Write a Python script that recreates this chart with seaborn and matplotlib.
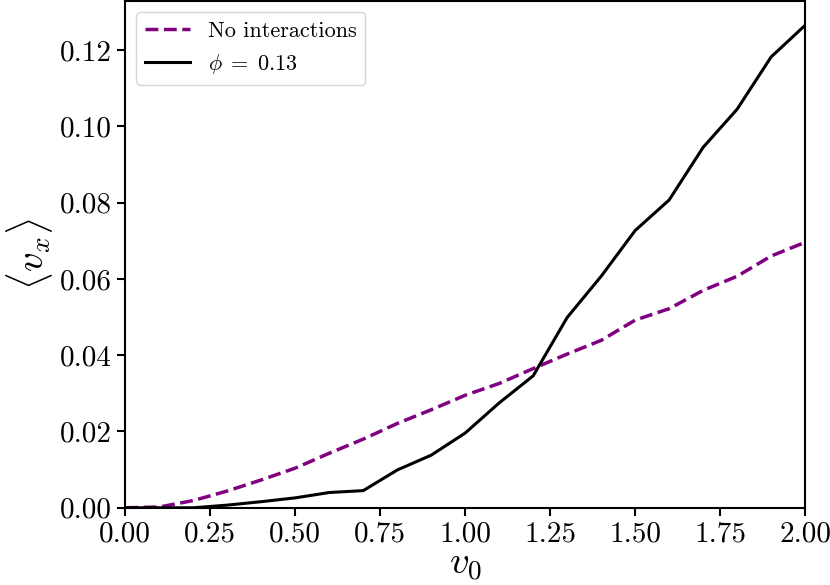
import numpy as np
import pandas as pd
import seaborn as sns
import matplotlib
matplotlib.use("Agg")
import matplotlib.pyplot as plt

# data
v0 = [0.0, 0.1, 0.2, 0.3, 0.4, 0.5, 0.6, 0.7, 0.8, 0.9, 1.0,
      1.1, 1.2, 1.3, 1.4, 1.5, 1.6, 1.7, 1.8, 1.9, 2.0]
no_inter = [0.0, 0.0002, 0.0019, 0.0044, 0.0073, 0.0104, 0.0143, 0.0180, 0.0221, 0.0257, 0.0295,
            0.0326, 0.0365, 0.0403, 0.0439, 0.0492, 0.0522, 0.0570, 0.0607, 0.0660, 0.0696]
phi_013 = [0.0, 0.0, 0.0, 0.0007, 0.0016, 0.0026, 0.0040, 0.0045, 0.0099, 0.0138, 0.0196,
           0.0275, 0.0346, 0.0499, 0.0607, 0.0727, 0.0807, 0.0945, 0.1045, 0.1182, 0.1265]
labels = ["No interactions", r"$\phi\;=\;0.13$"]

plt.rcParams["mathtext.fontset"] = "cm"
plt.rcParams["font.family"] = "serif"
plt.rcParams["font.serif"] = ["cmr10", "DejaVu Serif"]
plt.rcParams["axes.formatter.use_mathtext"] = True

df = pd.DataFrame({"v0": v0, "a": no_inter, "b": phi_013})

fig, ax = plt.subplots(figsize=(8.3, 5.85), dpi=100)
sns.lineplot(x="v0", y="a", data=df, ax=ax, color="purple", linestyle="--", linewidth=2.5, label=labels[0])
sns.lineplot(x="v0", y="b", data=df, ax=ax, color="black", linewidth=2.2, label=labels[1])

ax.set_xlim(0, 2)
ax.set_ylim(0, max(phi_013) * 1.05)
ax.set_xticks(np.arange(0, 2.01, 0.25))
ax.set_yticks(np.arange(0, 0.121, 0.02))
ax.xaxis.set_major_formatter(matplotlib.ticker.FormatStrFormatter("%.2f"))
ax.yaxis.set_major_formatter(matplotlib.ticker.FormatStrFormatter("%.2f"))
ax.tick_params(labelsize=21, width=1.5, length=6)
for s in ax.spines.values():
    s.set_linewidth(1.5)
ax.set_xlabel(r"$v_0$", fontsize=28, labelpad=0)
ax.set_ylabel(r"$\langle v_x \rangle$", fontsize=28)
ax.legend(loc="upper left", fontsize=16)

fig.subplots_adjust(left=0.151, right=0.97, bottom=0.132, top=0.998)
fig.savefig("out.png", dpi=100)
